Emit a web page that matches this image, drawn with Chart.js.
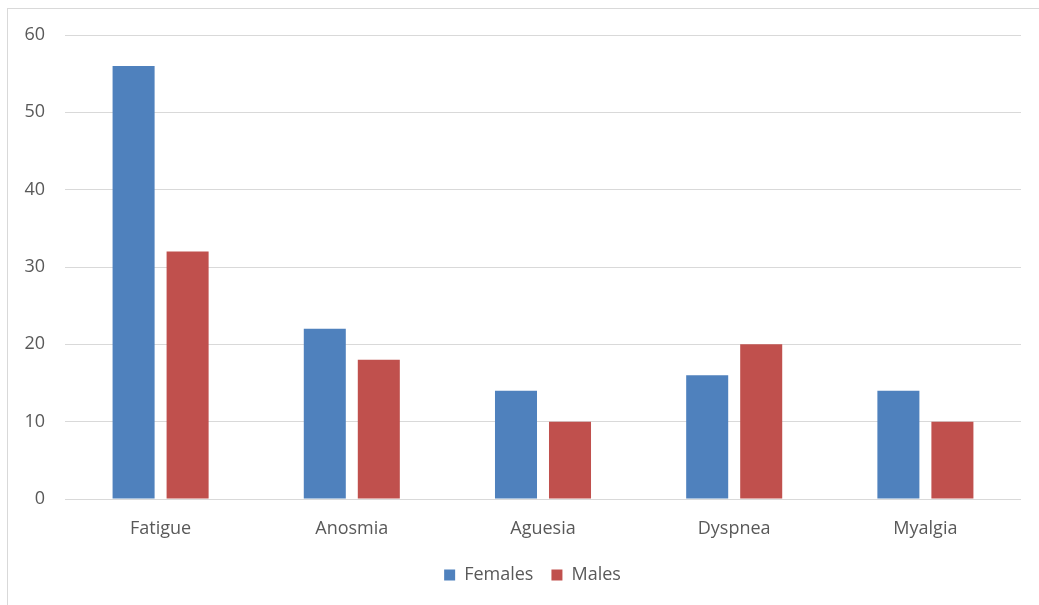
<!DOCTYPE html>
<html>
<head>
<meta charset="utf-8">
<script src="https://cdn.jsdelivr.net/npm/chart.js@4"></script>
<style>
  html, body { margin: 0; padding: 0; background: #ffffff; }
  #wrap { position: relative; width: 1039px; height: 605px; overflow: hidden; }
  #frame { position: absolute; left: 7px; top: 8px; width: 1100px; height: 700px;
           border: 1px solid #d9d9d9; box-sizing: border-box; }
  canvas { position: absolute; left: 0; top: 0; }
</style>
</head>
<body>
<div id="wrap">
  <div id="frame"></div>
  <canvas id="chart" width="1039" height="605"></canvas>
</div>
<script>
// Symptom counts by sex
const categories = ['Fatigue', 'Anosmia', 'Aguesia', 'Dyspnea', 'Myalgia'];
const females = [56, 22, 14, 16, 14];
const males = [32, 18, 10, 20, 10];
const yTicks = [0, 10, 20, 30, 40, 50, 60];

const textColor = '#595959';
const gridColor = '#d9d9d9';
const baseFont = { family: "'Open Sans', 'Liberation Sans', sans-serif", size: 18 };

// Nudge the legend so it sits centred under the whole frame, not just the plot
const legendShift = {
  id: 'legendShift',
  afterLayout(chart) {
    const lg = chart.legend;
    if (lg) { lg.left += 22; lg.right += 22; }
  }
};

new Chart(document.getElementById('chart'), {
  type: 'bar',
  data: {
    labels: categories,
    datasets: [
      { label: 'Females', data: females, backgroundColor: '#4F81BD',
        categoryPercentage: 0.565, barPercentage: 0.778 },
      { label: 'Males', data: males, backgroundColor: '#C0504D',
        categoryPercentage: 0.565, barPercentage: 0.778 }
    ]
  },
  plugins: [legendShift],
  options: {
    responsive: false,
    animation: false,
    layout: { padding: { left: 0, right: 18, top: 35, bottom: 11 } },
    plugins: {
      tooltip: { enabled: false },
      legend: {
        position: 'bottom',
        labels: {
          boxWidth: 11, boxHeight: 11, padding: 18,
          color: textColor, font: baseFont
        }
      }
    },
    scales: {
      x: {
        grid: { display: false, drawTicks: false },
        border: { display: false },
        ticks: { color: textColor, font: baseFont, padding: 19 },
        afterFit(scale) { scale.height = 49; }
      },
      y: {
        min: 0, max: 60,
        afterBuildTicks(scale) { scale.ticks = yTicks.map(v => ({ value: v })); },
        grid: { color: gridColor, lineWidth: 1, drawTicks: false },
        border: { display: false },
        ticks: { color: textColor, font: baseFont, padding: 20 },
        afterFit(scale) { scale.width = 65; }
      }
    }
  }
});
</script>
</body>
</html>
